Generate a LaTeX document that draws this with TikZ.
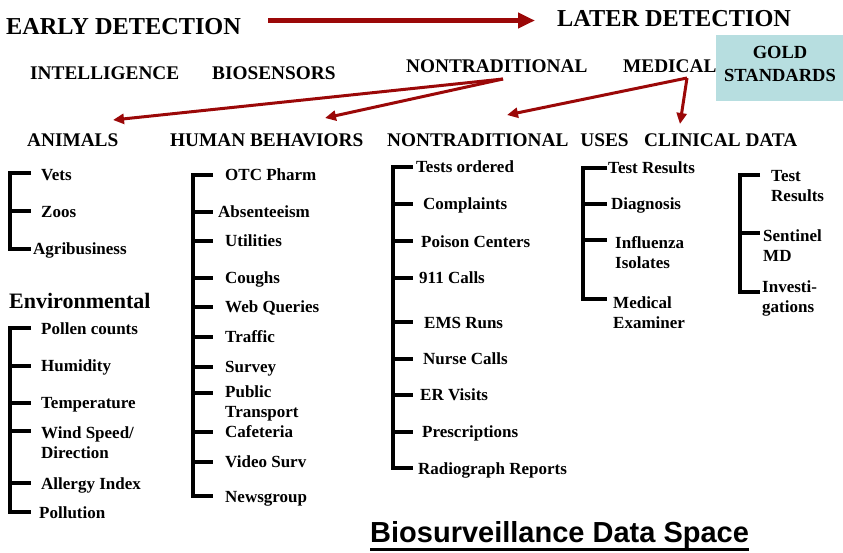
\documentclass[tikz,border=0pt]{standalone}
\usepackage{fontspec}
\setmainfont{Liberation Serif}
\newfontfamily\arialfont{Liberation Sans}
\usetikzlibrary{arrows.meta}
\definecolor{arrred}{RGB}{155,8,8}
\definecolor{goldbg}{RGB}{183,222,224}
\begin{document}
\begin{tikzpicture}[x=1pt,y=-1pt,
 big/.style={font=\fontsize{24.3}{28}\selectfont\bfseries, anchor=west, inner sep=0pt, text height=16.1pt, text depth=0pt},
 hdr/.style={font=\fontsize{19.3}{23}\selectfont\bfseries, anchor=west, inner sep=0pt, text height=12.8pt, text depth=0pt},
 itm/.style={font=\fontsize{17}{20}\selectfont\bfseries, anchor=west, inner sep=0pt, text height=11.25pt, text depth=0pt},
 itmtwo/.style={font=\fontsize{17}{20}\selectfont\bfseries, anchor=north west, inner sep=0pt, align=left},
 brk/.style={line width=3.2pt, line join=miter, line cap=butt},
 redarrow/.style={draw=arrred, line width=3pt, -{Triangle[length=11pt,width=10pt]}},
]
\useasboundingbox (0,0) rectangle (843,552);

% top row
\node[big] (early) at (6,26.5) {EARLY DETECTION};
\node[big] (later) at (557,18) {LATER DETECTION};
\coordinate (ea) at (268,20.5);
\coordinate (eb) at (535,20.5);
\draw[draw=arrred, line width=4.5pt, -{Triangle[length=17pt,width=15pt]}] (ea) -- (eb);

% second row
\node[hdr] (intel) at (30,73.5) {INTELLIGENCE};
\node[hdr] (biosens) at (212,73.5) {BIOSENSORS};
\node[hdr] (nontrad) at (406,66.5) {NONTRADITIONAL};
\node[hdr] (medical) at (623,66.5) {MEDICAL};
\fill[goldbg] (716,35) rectangle (843,101);
\node[font=\fontsize{18.5}{23}\selectfont\bfseries, align=center, inner sep=0pt] (gold) at (780,63.5) {GOLD\\STANDARDS};

% third row
\node[hdr] (animals) at (27,140) {ANIMALS};
\node[hdr] (human) at (170,140) {HUMAN BEHAVIORS};
\node[hdr] (ntuses) at (387,140) {NONTRADITIONAL\hspace{12pt}USES};
\node[hdr] (clinical) at (644,140) {CLINICAL DATA};

% arrows
\coordinate (ntsrc) at (503,79);
\coordinate (mdsrc) at (687,78);
\coordinate (tAnim) at (113,120);
\coordinate (tHum) at (325,118);
\coordinate (tNT) at (507,115);
\coordinate (tCD) at (680,124);
\draw[redarrow] (ntsrc) -- (tAnim);
\draw[redarrow] (ntsrc) -- (tHum);
\draw[redarrow] (mdsrc) -- (tNT);
\draw[redarrow] (mdsrc) -- (tCD);

% animals
\node[itm] (vets) at (41,175) {Vets};
\node[itm] (zoos) at (41,212) {Zoos};
\node[itm] (agri) at (33,249) {Agribusiness};
\draw[brk] (31,173) -- (10,173) -- (10,249) -- (31,249);
\draw[brk] (10,211) -- (31,211);

% environmental
\node[font=\fontsize{22}{26}\selectfont\bfseries, anchor=west, inner sep=0pt, text height=14.6pt, text depth=0pt] (env) at (9,301) {Environmental};
\node[itm] (pollen) at (41,329) {Pollen counts};
\node[itm] (humid) at (41,366) {Humidity};
\node[itm] (temp) at (41,403) {Temperature};
\node[itmtwo] (wind) at (41,426) {Wind Speed/\\Direction};
\node[itm] (allergy) at (41,484) {Allergy Index};
\node[itm] (pollut) at (39,513) {Pollution};
\draw[brk] (31,328) -- (10,328) -- (10,512) -- (31,512);
\foreach \yy in {366,403,431,483} \draw[brk] (10,\yy) -- (31,\yy);

% human behaviors
\node[itm] (otc) at (225,175) {OTC Pharm};
\node[itm] (absent) at (218,212) {Absenteeism};
\node[itm] (util) at (225,241) {Utilities};
\node[itm] (cough) at (225,278) {Coughs};
\node[itm] (web) at (225,307) {Web Queries};
\node[itm] (traffic) at (225,337) {Traffic};
\node[itm] (survey) at (225,367) {Survey};
\node[itmtwo] (public) at (225,385) {Public\\Transport};
\node[itm] (cafe) at (225,432) {Cafeteria};
\node[itm] (video) at (225,462) {Video Surv};
\node[itm] (news) at (225,497) {Newsgroup};
\draw[brk] (213,175) -- (193,175) -- (193,496) -- (213,496);
\foreach \yy in {212,241,278,307,337,367,393,432,462} \draw[brk] (193,\yy) -- (213,\yy);

% nontraditional uses
\node[itm] (tests) at (416,167) {Tests ordered};
\node[itm] (compl) at (423,204) {Complaints};
\node[itm] (poison) at (421,242) {Poison Centers};
\node[itm] (calls) at (419,278) {911 Calls};
\node[itm] (ems) at (424,323) {EMS Runs};
\node[itm] (nurse) at (423,359) {Nurse Calls};
\node[itm] (er) at (420,395) {ER Visits};
\node[itm] (presc) at (422,432) {Prescriptions};
\node[itm] (radio) at (418,469) {Radiograph Reports};
\draw[brk] (413,167) -- (393,167) -- (393,468) -- (413,468);
\foreach \yy in {204,241,278,322,359,395,432} \draw[brk] (393,\yy) -- (413,\yy);

% clinical data 1
\node[itm] (tres) at (608,168) {Test Results};
\node[itm] (diag) at (611,204) {Diagnosis};
\node[itmtwo] (flu) at (615,236) {Influenza\\Isolates};
\node[itmtwo] (medex) at (613,296) {Medical\\Examiner};
\draw[brk] (607,168) -- (583,168) -- (583,299) -- (607,299);
\foreach \yy in {204,240} \draw[brk] (583,\yy) -- (607,\yy);

% clinical data 2
\node[itmtwo] (tres2) at (771,170) {Test\\Results};
\node[itmtwo] (sent) at (763,229) {Sentinel\\MD};
\node[itmtwo] (invest) at (762,280) {Investi-\\gations};
\draw[brk] (760,175) -- (740,175) -- (740,292) -- (760,292);
\draw[brk] (740,233) -- (760,233);

% title
\node[anchor=base west, inner sep=0pt, font=\arialfont\bfseries\fontsize{29}{34}\selectfont] (title) at (370,542) {Biosurveillance Data Space};
\draw[line width=2.8pt] ([yshift=-7.5pt]title.base west) -- ([yshift=-7.5pt]title.base east);
\end{tikzpicture}
\end{document}
